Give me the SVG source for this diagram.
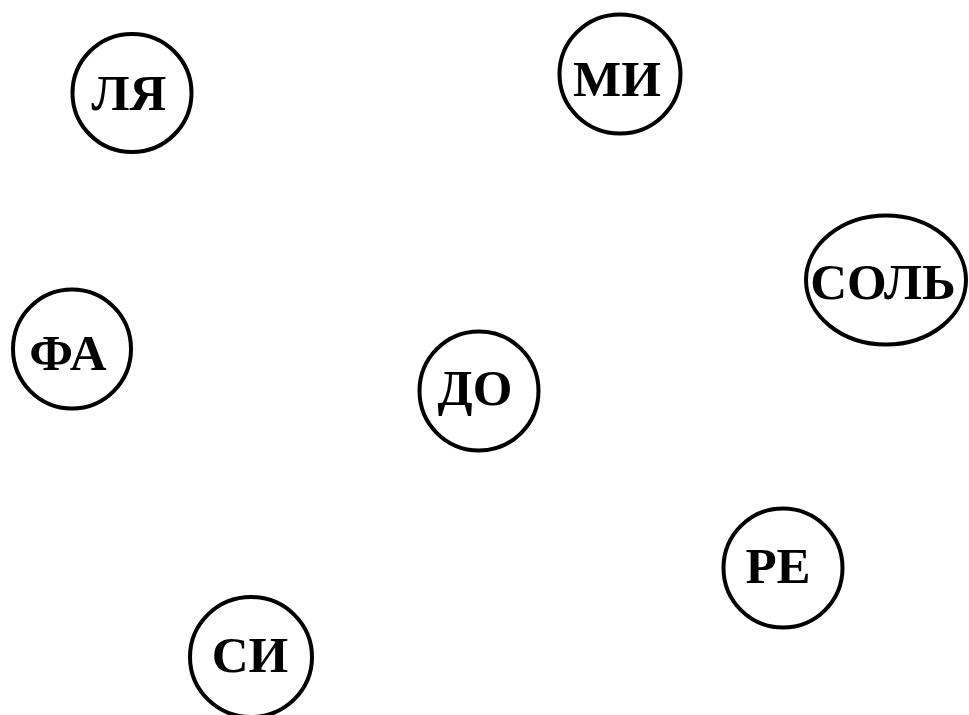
<svg xmlns="http://www.w3.org/2000/svg" width="969" height="715" viewBox="0 0 969 715">
<style>
.n{fill:#fff;stroke:#000;stroke-width:4}
.t{font-family:"Liberation Serif","DejaVu Serif",serif;font-weight:bold;font-size:51px;fill:#000;text-anchor:middle}
</style>
<rect width="969" height="715" fill="#fff"/>
<g id="connectors"></g>
<g id="node-la"><ellipse class="n" cx="132" cy="93" rx="59.5" ry="59"/><text class="t" x="129" y="110">ЛЯ</text></g>
<g id="node-mi"><ellipse class="n" cx="620" cy="74" rx="60.5" ry="59.5"/><text class="t" x="617" y="96">МИ</text></g>
<g id="node-sol"><ellipse class="n" cx="886" cy="280" rx="80" ry="64.5"/><text class="t" x="883" y="299">СОЛЬ</text></g>
<g id="node-fa"><ellipse class="n" cx="72" cy="349" rx="59" ry="59.5"/><text class="t" x="68" y="370">ФА</text></g>
<g id="node-do"><ellipse class="n" cx="479" cy="391" rx="59.5" ry="59.5"/><text class="t" x="475" y="405">ДО</text></g>
<g id="node-si"><ellipse class="n" cx="251" cy="657" rx="61" ry="60"/><text class="t" x="250" y="672">СИ</text></g>
<g id="node-re"><ellipse class="n" cx="783" cy="568" rx="59.5" ry="59.5"/><text class="t" x="778" y="583">РЕ</text></g>
</svg>
